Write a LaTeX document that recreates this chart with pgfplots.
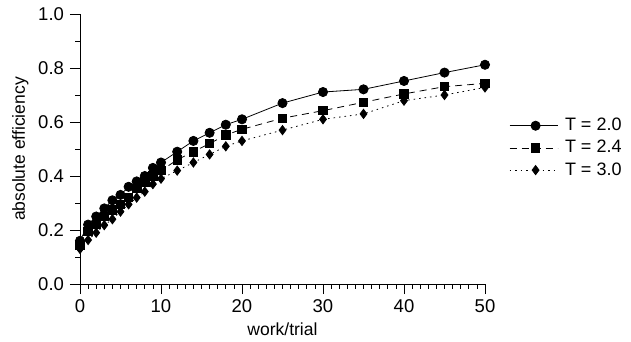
\documentclass[border=0pt]{standalone}
\usepackage{pgfplots}
\pgfplotsset{compat=1.18}
\usepackage{pgfplotstable}
\usepackage{fontspec}
\setmainfont{Liberation Sans}
\pgfplotstableread{
x A B C
0 0.16 0.145 0.13
1 0.22 0.195 0.163
2 0.25 0.22 0.19
3 0.28 0.25 0.218
4 0.31 0.275 0.24
5 0.33 0.295 0.268
6 0.36 0.32 0.295
7 0.38 0.355 0.32
8 0.40 0.378 0.342
9 0.43 0.40 0.37
10 0.45 0.42 0.39
12 0.49 0.46 0.42
14 0.53 0.49 0.45
16 0.56 0.52 0.48
18 0.59 0.552 0.51
20 0.61 0.573 0.53
25 0.67 0.614 0.57
30 0.711 0.642 0.61
35 0.721 0.673 0.63
40 0.752 0.704 0.679
45 0.783 0.731 0.70
50 0.812 0.743 0.728
}\data
\begin{document}
\fontsize{17.5pt}{21pt}\selectfont
\begin{tikzpicture}
\begin{axis}[
  scale only axis,
  width=405pt, height=270pt,
  xmin=0, xmax=50, ymin=0, ymax=1,
  axis lines*=left,
  axis line style={line width=0.8pt},
  tick align=outside,
  major tick length=10pt,
  minor tick length=4.5pt,
  every tick/.style={black, line width=0.8pt},
  xtick={0,10,20,30,40,50},
  minor x tick num=9,
  ytick={0,0.2,0.4,0.6,0.8,1.0},
  minor y tick num=1,
  yticklabel style={/pgf/number format/.cd, fixed, fixed zerofill, precision=1},
  /pgf/number format/assume math mode=true,
  tick label style={font=\fontsize{18.5pt}{22pt}\selectfont},
  label style={font=\fontsize{17.5pt}{21pt}\selectfont},
  xlabel={work/trial},
  ylabel={absolute efficiency},
  xlabel style={yshift=2pt},
  ylabel style={yshift=-2pt},
  clip=false,
  legend style={at={(1,0.504)}, anchor=west, xshift=22pt, draw=none, fill=none,
    font=\fontsize{18pt}{21pt}\selectfont, row sep=3pt, inner sep=2pt,
    /tikz/every odd column/.append style={column sep=5pt}},
  legend cell align=left,
  legend image code/.code={
    \draw[#1, mark=none] (0pt,0pt) -- (48pt,0pt);
    \draw[#1, only marks] plot coordinates {(26pt,0pt)};
  },
]
\addplot[black, line width=0.8pt, mark=*, mark size=4.6pt, mark options={solid}] table[x=x,y=A]{\data};
\addlegendentry{T = 2.0}
\addplot[black, line width=0.8pt, dash pattern=on 7pt off 5pt, mark=square*, mark size=4.2pt, mark options={solid}] table[x=x,y=B]{\data};
\addlegendentry{T = 2.4}
\addplot[black, line width=0.8pt, dash pattern=on 1.5pt off 4pt, mark=diamond*, mark size=4.6pt, mark options={solid}] table[x=x,y=C]{\data};
\addlegendentry{T = 3.0}
\end{axis}
\pgfresetboundingbox
\path[use as bounding box] (-80pt,-57pt) rectangle (551pt,284pt);
\end{tikzpicture}
\end{document}
